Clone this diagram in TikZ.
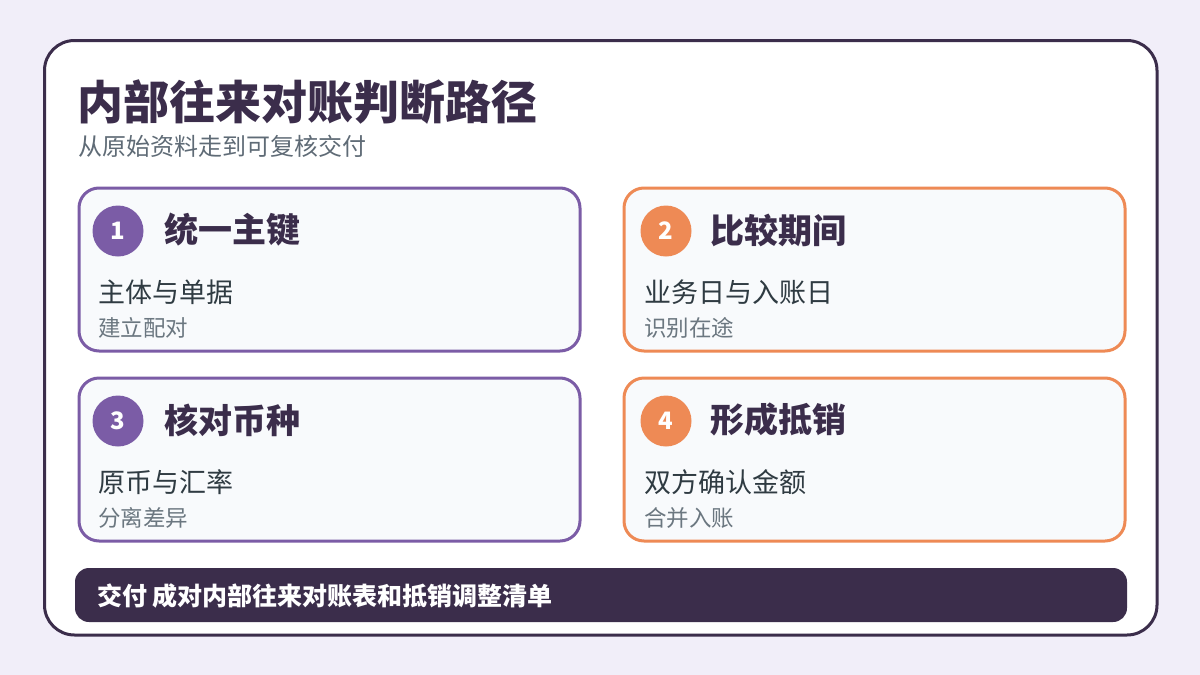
\documentclass[tikz,border=0pt]{standalone}
\usepackage{fontspec}
\setmainfont{Noto Sans CJK SC}
\usepackage{tikz}
\definecolor{pagebg}{HTML}{F1EEF9}
\definecolor{ink}{HTML}{3B2D4B}
\definecolor{stepviolet}{HTML}{7B5CA6}
\definecolor{steporange}{HTML}{EE8A55}
\definecolor{cardbg}{HTML}{F8FAFC}
\definecolor{subgray}{HTML}{5F6B76}
\definecolor{bodytext}{HTML}{2F3B42}
\definecolor{notetext}{HTML}{6B7780}

\begin{document}
\begin{tikzpicture}[x=1pt,y=-1pt,
	card/.style={draw=#1,line width=3pt,fill=cardbg,rounded corners=20pt,
		minimum width=501pt,minimum height=163pt,anchor=north west,inner sep=0pt},
	badge/.style={circle,fill=#1,minimum size=51pt,inner sep=0pt,text=white,
		font=\fontsize{24}{28}\selectfont\bfseries},
	head/.style={anchor=west,inner sep=0pt,text=ink,font=\fontsize{34}{40}\selectfont\bfseries},
	body/.style={anchor=west,inner sep=0pt,text=bodytext,font=\fontsize{27}{32}\selectfont},
	note/.style={anchor=west,inner sep=0pt,text=notetext,font=\fontsize{22.5}{26}\selectfont}]
	\fill[pagebg] (0,0) rectangle (1200,675);
	\draw[ink,line width=3pt,fill=white,rounded corners=30pt] (44.5,40.5) rectangle (1157,635);
	
	\node[anchor=west,inner sep=0pt,text=ink,font=\fontsize{46}{52}\selectfont\bfseries] (title) at (77,102) {内部往来对账判断路径};
	\node[anchor=west,inner sep=0pt,text=subgray,font=\fontsize{24}{28}\selectfont] (subtitle) at (78,146) {从原始资料走到可复核交付};
	
	% step 1
	\node[card=stepviolet] (k1) at (77.5,186.5) {};
	\node[badge=stepviolet] (b1) at (118,231) {1};
	\node[head] (h1) at (164,230) {统一主键};
	\node[body] (t1) at (98,292) {主体与单据};
	\node[note] (n1) at (98,328) {建立配对};
	
	% step 2
	\node[card=steporange] (k2) at (622.5,186.5) {};
	\node[badge=steporange] (b2) at (666,231) {2};
	\node[head] (h2) at (710,230) {比较期间};
	\node[body] (t2) at (644,292) {业务日与入账日};
	\node[note] (n2) at (644,328) {识别在途};
	
	% step 3
	\node[card=stepviolet] (k3) at (77.5,376.5) {};
	\node[badge=stepviolet] (b3) at (118,421) {3};
	\node[head] (h3) at (164,420) {核对币种};
	\node[body] (t3) at (98,482) {原币与汇率};
	\node[note] (n3) at (98,518) {分离差异};
	
	% step 4
	\node[card=steporange] (k4) at (622.5,376.5) {};
	\node[badge=steporange] (b4) at (666,421) {4};
	\node[head] (h4) at (710,420) {形成抵销};
	\node[body] (t4) at (644,482) {双方确认金额};
	\node[note] (n4) at (644,518) {合并入账};
	
	% delivery bar
	\fill[ink,rounded corners=14pt] (75,568) rectangle (1127,622);
	\node[anchor=west,inner sep=0pt,text=white,font=\fontsize{25}{30}\selectfont\bfseries] (deliver) at (97,596) {交付 成对内部往来对账表和抵销调整清单};
\end{tikzpicture}
\end{document}
